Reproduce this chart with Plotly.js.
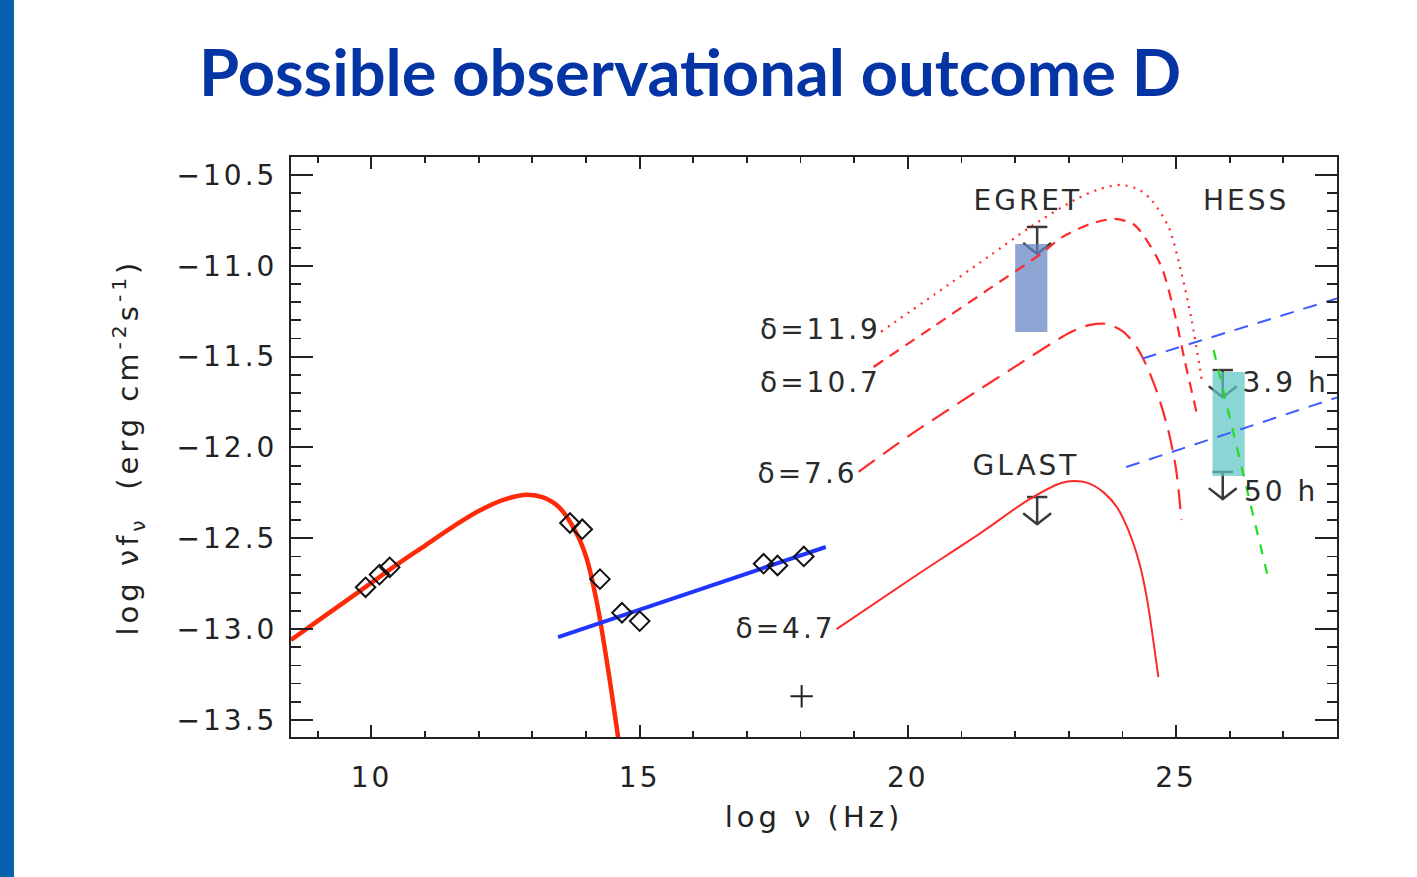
<!DOCTYPE html>
<html>
<head>
<meta charset="utf-8">
<script src="https://cdn.plot.ly/plotly-3.0.1.min.js"></script>
<style>
  html, body { margin: 0; padding: 0; background: #fff; }
  #chart { width: 1417px; height: 877px; }
  #bar { position: absolute; left: 0; top: 0; width: 14px; height: 877px; background: #0560B0; z-index: 5; }
  #chart .xtick text, #chart .ytick text { letter-spacing: 3px; }
  #chart .annotation-text { letter-spacing: 3px; }
  #chart .xtitle, #chart .ytitle { letter-spacing: 4px; }
</style>
</head>
<body>
<div id="bar"></div>
<div id="chart"></div>
<script>
// ---------- data ----------
// synchrotron model (thick red)
const syncX = [8.5, 9.0, 9.5, 10.0, 10.5, 11.0, 11.5, 12.0, 12.5, 12.9, 13.2, 13.5, 13.8, 14.0, 14.2, 14.4, 14.6];
const syncY = [-13.06, -12.955, -12.85, -12.745, -12.64, -12.54, -12.44, -12.35, -12.285, -12.26, -12.275, -12.33, -12.46, -12.60, -12.85, -13.2, -13.6];

// power law (thick blue)
const plX = [13.48, 18.47];
const plY = [-13.044, -12.548];

// observed points (diamonds)
const obsX = [9.89, 10.15, 10.34, 13.70, 13.93, 14.26, 14.67, 15.0, 17.31, 17.57, 18.06];
const obsY = [-12.77, -12.70, -12.66, -12.416, -12.45, -12.725, -12.91, -12.956, -12.64, -12.65, -12.60];

// single cross point
const crossX = [18.02];
const crossY = [-13.37];

// inverse Compton models for different Doppler factors
const d119X = [19.5, 20.5, 21.5, 22.34, 23.17, 23.6, 23.98, 24.3, 24.54, 24.86, 25.1, 25.29, 25.48];
const d119Y = [-11.363, -11.157, -10.95, -10.775, -10.628, -10.575, -10.555, -10.58, -10.638, -10.786, -11.04, -11.30, -11.63];

const d107X = [19.36, 20.5, 21.5, 22.5, 22.86, 23.4, 23.85, 24.2, 24.41, 24.73, 24.97, 25.16, 25.38];
const d107Y = [-11.557, -11.33, -11.13, -10.93, -10.845, -10.77, -10.742, -10.77, -10.84, -11.007, -11.26, -11.52, -11.805];

const d76X = [19.08, 20.0, 21.0, 22.0, 23.05, 23.4, 23.7, 24.0, 24.25, 24.45, 24.65, 24.85, 25.0, 25.1];
const d76Y = [-12.135, -11.94, -11.745, -11.555, -11.363, -11.325, -11.32, -11.36, -11.44, -11.55, -11.70, -11.90, -12.12, -12.40];

const d47X = [18.67, 20.11, 21.36, 22.24, 22.86, 23.1, 23.35, 23.66, 23.9, 24.11, 24.3, 24.45, 24.67];
const d47Y = [-13.0, -12.713, -12.47, -12.29, -12.196, -12.185, -12.195, -12.25, -12.33, -12.455, -12.62, -12.82, -13.264];

// HESS sensitivity lines (blue dashed) and green dashed spectrum
const hessUpX = [24.38, 28.0];
const hessUpY = [-11.51, -11.18];
const hessLoX = [24.07, 28.0];
const hessLoY = [-12.108, -11.725];
const greenX = [25.70, 26.71];
const greenY = [-11.464, -12.71];

// upper limits (x, top of the bar)
const limX = [22.41, 22.41, 25.87, 25.87];
const limY = [-10.786, -12.273, -11.574, -12.135];

// shaded boxes
const boxX0 = [22.0, 25.68];
const boxX1 = [22.6, 26.28];
const boxY0 = [-11.365, -12.157];
const boxY1 = [-10.88, -11.585];
const boxColor = ['rgba(100,130,195,0.72)', 'rgba(95,197,197,0.72)'];

// text labels
const labelText = ['EGRET', 'HESS', 'GLAST', 'δ=11.9', 'δ=10.7', 'δ=7.6', 'δ=4.7', '3.9 h', '50 h'];
const labelX = [22.24, 26.30, 22.21, 19.36, 19.36, 18.96, 18.55, 26.34, 26.34];
const labelY = [-10.643, -10.643, -12.097, -11.348, -11.645, -12.141, -12.995, -11.645, -12.245];
const labelAnchor = ['center', 'center', 'center', 'right', 'right', 'right', 'right', 'left', 'left'];

// ---------- build traces ----------
const RED = '#FF2A2A';
const traces = [];

// upper-limit arrows (bar + stem + arrowhead), drawn first so boxes tint them
const barHalf = 0.19, headHalf = 0.26, stemLen = 0.149, headLen = 0.06;
const arrX = [], arrY = [];
for (let i = 0; i < limX.length; i++) {
  const x = limX[i], y = limY[i], tip = y - stemLen;
  arrX.push(x - barHalf, x + barHalf, null, x, x, null, x - headHalf, x, x + headHalf, null);
  arrY.push(y, y, null, y, tip, null, tip + headLen, tip, tip + headLen, null);
}
traces.push({x: arrX, y: arrY, mode: 'lines', line: {color: '#3a3a3a', width: 2.5}, hoverinfo: 'skip'});

// boxes
for (let i = 0; i < boxX0.length; i++) {
  traces.push({
    x: [boxX0[i], boxX1[i], boxX1[i], boxX0[i], boxX0[i]],
    y: [boxY0[i], boxY0[i], boxY1[i], boxY1[i], boxY0[i]],
    mode: 'lines', fill: 'toself', fillcolor: boxColor[i], line: {width: 0}, hoverinfo: 'skip'
  });
}

traces.push({x: syncX, y: syncY, mode: 'lines', line: {color: '#FF2A08', width: 4.5, shape: 'spline', smoothing: 1}});
traces.push({x: plX, y: plY, mode: 'lines', line: {color: '#2035FF', width: 4}});
traces.push({x: d119X, y: d119Y, mode: 'lines', line: {color: RED, width: 2.2, dash: '2px,6px', shape: 'spline', smoothing: 0.8}});
traces.push({x: d107X, y: d107Y, mode: 'lines', line: {color: RED, width: 2.2, dash: '11px,8px', shape: 'spline', smoothing: 0.8}});
traces.push({x: d76X, y: d76Y, mode: 'lines', line: {color: RED, width: 2.2, dash: '20px,10px', shape: 'spline', smoothing: 0.8}});
traces.push({x: d47X, y: d47Y, mode: 'lines', line: {color: RED, width: 2, shape: 'spline', smoothing: 0.8}});
traces.push({x: hessUpX, y: hessUpY, mode: 'lines', line: {color: '#3F5CFF', width: 2, dash: '14px,10px'}});
traces.push({x: hessLoX, y: hessLoY, mode: 'lines', line: {color: '#3F5CFF', width: 2, dash: '14px,10px'}});
traces.push({x: greenX, y: greenY, mode: 'lines', line: {color: '#22DD22', width: 2.2, dash: '10px,10px'}});
traces.push({x: obsX, y: obsY, mode: 'markers', marker: {symbol: 'diamond-open', size: 15, color: '#111', line: {width: 2, color: '#111'}}});
traces.push({x: crossX, y: crossY, mode: 'markers', marker: {symbol: 'cross-thin-open', size: 16, color: '#222', line: {width: 2, color: '#222'}}});

const FONT = 'DejaVu Sans, Liberation Sans, sans-serif';
const annotations = labelText.map((t, i) => ({
  x: labelX[i], y: labelY[i], text: t, showarrow: false,
  xanchor: labelAnchor[i], yanchor: 'middle',
  font: {family: FONT, size: 28, color: '#2a2a2a'}
}));

const layout = {
  width: 1417, height: 877,
  margin: {l: 291, r: 80, t: 157, b: 140},
  paper_bgcolor: '#ffffff', plot_bgcolor: '#ffffff',
  showlegend: false,
  title: {
    text: 'Possible observational outcome D',
    xref: 'container', yref: 'container', x: 0.487, y: 0.917,
    xanchor: 'center', yanchor: 'middle',
    font: {family: 'Comic Sans MS, Lato, sans-serif', size: 65, color: '#0535A5', weight: 'bold'}
  },
  xaxis: {
    range: [8.5, 28.0], tickmode: 'linear', tick0: 0, dtick: 5,
    ticks: 'inside', ticklen: 12, tickwidth: 2, tickcolor: '#222',
    minor: {dtick: 1, ticks: 'inside', ticklen: 6, tickwidth: 1.8, tickcolor: '#222', showgrid: false},
    showline: true, linewidth: 2, linecolor: '#222', mirror: 'allticks',
    showgrid: false, zeroline: false, ticklabelstandoff: 14,
    tickfont: {family: FONT, size: 28, color: '#222'},
    title: {text: 'log ν (Hz)', font: {family: FONT, size: 29, color: '#222'}, standoff: 14}
  },
  yaxis: {
    range: [-13.594, -10.401], tickmode: 'linear', tick0: 0, dtick: 0.5, tickformat: '.1f',
    ticks: 'inside', ticklen: 22, tickwidth: 2, tickcolor: '#222',
    minor: {dtick: 0.1, ticks: 'inside', ticklen: 10, tickwidth: 1.8, tickcolor: '#222', showgrid: false},
    showline: true, linewidth: 2, linecolor: '#222', mirror: 'allticks',
    showgrid: false, zeroline: false, ticklabelstandoff: 6,
    tickfont: {family: FONT, size: 28, color: '#222'},
    title: {text: 'log νf<sub>ν</sub>  (erg cm<sup>-2</sup>s<sup>-1</sup>)', font: {family: FONT, size: 29, color: '#222'}, standoff: 44}
  },
  annotations: annotations
};

Plotly.newPlot('chart', traces, layout, {displayModeBar: false, staticPlot: true});
</script>
</body>
</html>
